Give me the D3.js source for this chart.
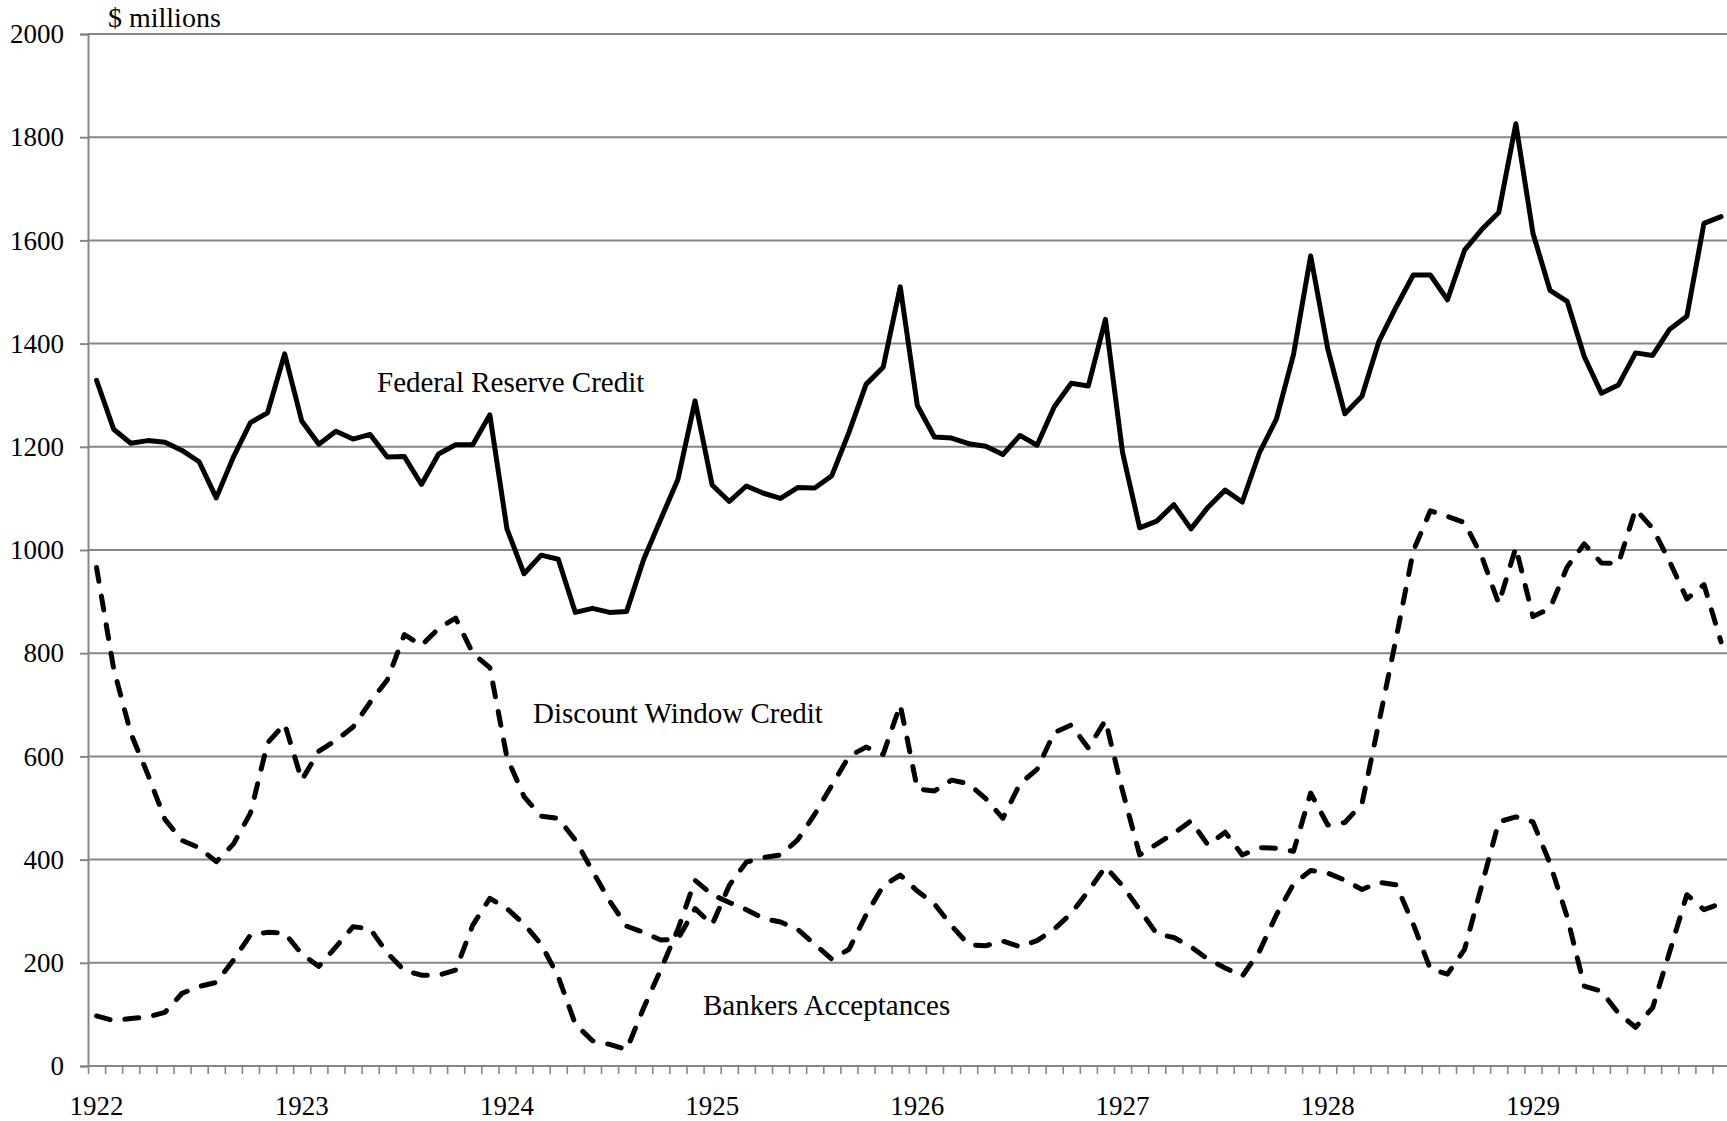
<!DOCTYPE html>
<html>
<head>
<meta charset="utf-8">
<script src="https://cdn.jsdelivr.net/npm/d3@7"></script>
<style>
  html, body { margin: 0; padding: 0; background: #fff; overflow: hidden; }
  text { font-family: "Liberation Serif", "Times New Roman", serif; fill: #000; }
</style>
</head>
<body>
<svg id="chart" width="1727" height="1121"></svg>
<script>
// monthly data, Jan 1922 - Dec 1929, $ millions
var years = [1922, 1923, 1924, 1925, 1926, 1927, 1928, 1929];
var yTicks = [0, 200, 400, 600, 800, 1000, 1200, 1400, 1600, 1800, 2000];

var reserveCredit = [
    1329, 1234, 1207, 1212, 1209, 1193, 1171, 1101, 1180, 1247, 1266, 1380,
    1250, 1205, 1230, 1215, 1224, 1180, 1181, 1127, 1186, 1204, 1204, 1262,
    1041, 954, 990, 982, 879, 887, 879, 881, 982, 1060, 1137, 1289,
    1126, 1094, 1124, 1110, 1100, 1121, 1120, 1144, 1228, 1321, 1354, 1510,
    1280, 1219, 1217, 1206, 1201, 1185, 1222, 1203, 1277, 1323, 1318, 1447,
    1189, 1043, 1056, 1088, 1041, 1083, 1116, 1093, 1188, 1254, 1379, 1570,
    1390, 1264, 1298, 1405, 1471, 1533, 1533, 1485, 1581, 1621, 1654, 1826,
    1614, 1503, 1482, 1375, 1304, 1320, 1382, 1377, 1428, 1453, 1633, 1646
];
var discountWindow = [
    966, 770, 645, 565, 478, 437, 423, 396, 430, 490, 626, 663,
    554, 610, 631, 657, 705, 748, 836, 815, 848, 868, 800, 772,
    598, 522, 484, 480, 438, 378, 320, 271, 259, 244, 246, 305,
    274, 350, 395, 404, 409, 438, 488, 544, 600, 618, 604, 700,
    537, 533, 554, 547, 518, 480, 547, 575, 646, 661, 616, 670,
    533, 409, 430, 451, 475, 428, 453, 409, 423, 422, 416, 529,
    467, 472, 508, 667, 829, 998, 1076, 1065, 1053, 988, 896, 1005,
    871, 887, 967, 1012, 975, 974, 1079, 1042, 977, 905, 933, 822
];
var bankersAcceptances = [
    97, 88, 92, 95, 104, 141, 154, 162, 205, 254, 259, 258,
    217, 193, 231, 270, 266, 219, 185, 176, 176, 186, 273, 325,
    305, 275, 236, 173, 81, 49, 42, 32, 113, 187, 265, 360,
    332, 317, 303, 286, 279, 265, 236, 207, 226, 293, 349, 370,
    339, 314, 272, 235, 233, 242, 231, 243, 265, 296, 339, 386,
    349, 303, 256, 249, 231, 207, 190, 174, 222, 293, 353, 379,
    374, 360, 342, 356, 351, 275, 188, 178, 226, 349, 473, 483,
    473, 392, 289, 155, 145, 102, 75, 113, 222, 332, 303, 315
];

var seriesLabels = [
    { text: "Federal Reserve Credit", x: 377, y: 392 },
    { text: "Discount Window Credit", x: 533, y: 723 },
    { text: "Bankers Acceptances", x: 703, y: 1015 }
];

var plotLeft = 88, plotTop = 34, plotBottom = 1066, monthW = 17.1;
var nMonths = reserveCredit.length;
var gridColor = "#868686";

var svg = d3.select("#chart");

var x = d3.scaleLinear().domain([0, nMonths]).range([plotLeft, plotLeft + nMonths * monthW]);
var y = d3.scaleLinear().domain([0, 2000]).range([plotBottom, plotTop]);

// y ticks + labels
svg.append("g")
    .attr("transform", "translate(" + plotLeft + ",0)")
    .call(d3.axisLeft(y).tickValues(yTicks).tickSize(8).tickPadding(16).tickFormat(d3.format("d")))
    .call(function(g) {
        g.select(".domain").attr("stroke", gridColor).attr("stroke-width", 2);
        g.selectAll(".tick line").attr("stroke", gridColor).attr("stroke-width", 2);
        g.selectAll(".tick text").style("font-size", "27px").attr("font-family", null);
    });

// horizontal gridlines
svg.append("g")
    .selectAll("line")
    .data(yTicks)
    .join("line")
    .attr("x1", plotLeft)
    .attr("x2", x(nMonths))
    .attr("y1", function(d) { return y(d); })
    .attr("y2", function(d) { return y(d); })
    .attr("stroke", gridColor)
    .attr("stroke-width", 2);

// month tick marks along the bottom
svg.append("g")
    .attr("transform", "translate(0," + plotBottom + ")")
    .call(d3.axisBottom(x).tickValues(d3.range(nMonths + 1)).tickSize(8).tickFormat(""))
    .call(function(g) {
        g.select(".domain").remove();
        g.selectAll(".tick line").attr("stroke", gridColor).attr("stroke-width", 1.6);
    });

// year labels centred on January
svg.append("g")
    .selectAll("text")
    .data(years)
    .join("text")
    .attr("x", function(d, i) { return x(i * 12 + 0.5); })
    .attr("y", 1115)
    .attr("text-anchor", "middle")
    .style("font-size", "27px")
    .text(function(d) { return d; });

svg.append("text")
    .attr("x", 108)
    .attr("y", 27)
    .style("font-size", "28px")
    .text("$ millions");

var line = d3.line()
    .x(function(d, i) { return x(i + 0.5); })
    .y(function(d) { return y(d); });

function drawSeries(values, dashed) {
    svg.append("path")
        .datum(values)
        .attr("d", line)
        .attr("fill", "none")
        .attr("stroke", "#000")
        .attr("stroke-width", 5)
        .attr("stroke-linejoin", "round")
        .attr("stroke-linecap", "round")
        .attr("stroke-dasharray", dashed ? "14,15" : null);
}

drawSeries(bankersAcceptances, true);
drawSeries(discountWindow, true);
drawSeries(reserveCredit, false);

svg.append("g")
    .selectAll("text")
    .data(seriesLabels)
    .join("text")
    .attr("x", function(d) { return d.x; })
    .attr("y", function(d) { return d.y; })
    .style("font-size", "29px")
    .text(function(d) { return d.text; });
</script>
</body>
</html>
